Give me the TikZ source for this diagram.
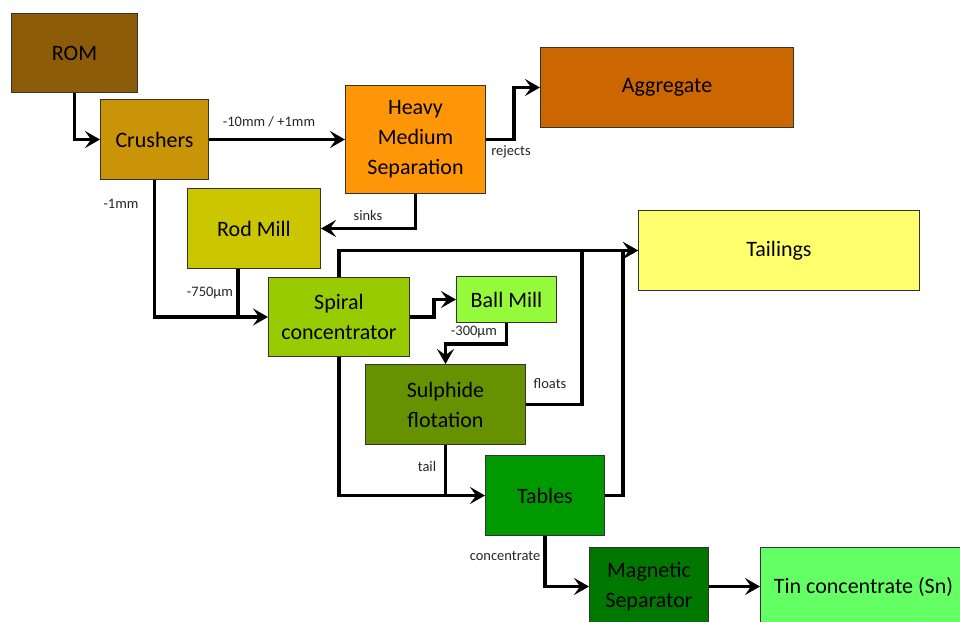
\documentclass[tikz,border=0pt]{standalone}
\usepackage{fontspec}
\setmainfont{Carlito}
\usetikzlibrary{arrows.meta}
\definecolor{cRom}{RGB}{140,92,8}
\definecolor{cCrush}{RGB}{202,148,8}
\definecolor{cHms}{RGB}{255,150,8}
\definecolor{cAgg}{RGB}{204,102,0}
\definecolor{cRod}{RGB}{204,198,0}
\definecolor{cTail}{RGB}{255,255,110}
\definecolor{cSpiral}{RGB}{153,204,0}
\definecolor{cBall}{RGB}{150,250,60}
\definecolor{cSulph}{RGB}{102,145,0}
\definecolor{cTables}{RGB}{0,153,0}
\definecolor{cMag}{RGB}{0,120,0}
\definecolor{cTin}{RGB}{100,255,100}
\begin{document}
\begin{tikzpicture}[x=1pt,y=-1pt,
  box/.style={draw=black!80, line width=1pt, anchor=north west, inner sep=0pt,
    align=center, font=\fontsize{22}{30}\selectfont, text=black},
  flow/.style={line width=3.5pt, -{Stealth[length=15pt,width=17pt,inset=6pt]}},
  plainline/.style={line width=3.5pt},
  lbl/.style={font=\fontsize{14.5}{16}\selectfont, text=black!85, inner sep=1pt}]
\useasboundingbox (0,0) rectangle (960,621);
\clip (0,0) rectangle (960,621);
\fill[white] (0,0) rectangle (960,621);

% boxes
\node[box, fill=cRom, minimum width=126pt, minimum height=79pt] (rom) at (11,13) {ROM};
\node[box, fill=cCrush, minimum width=108pt, minimum height=80pt] (crush) at (100,99) {Crushers};
\node[box, fill=cHms, minimum width=140pt, minimum height=108pt] (hms) at (345,85) {Heavy\\Medium\\Separation};
\node[box, fill=cAgg, minimum width=253pt, minimum height=80pt] (agg) at (540,47) {Aggregate};
\node[box, fill=cRod, minimum width=133pt, minimum height=80pt] (rod) at (187,188) {Rod Mill};
\node[box, fill=cTail, minimum width=281pt, minimum height=80pt] (tail) at (638,210) {Tailings};
\node[box, fill=cSpiral, minimum width=141pt, minimum height=79pt] (spiral) at (268,277) {Spiral\\concentrator};
\node[box, fill=cBall, minimum width=100pt, minimum height=46pt] (ball) at (456,276) {Ball Mill};
\node[box, fill=cSulph, minimum width=160pt, minimum height=80pt] (sulph) at (365,364) {Sulphide\\flotation};
\node[box, fill=cTables, minimum width=119pt, minimum height=80pt] (tables) at (485,455) {Tables};
\node[box, fill=cMag, minimum width=119pt, minimum height=78pt] (mag) at (589,547) {Magnetic\\Separator};
\node[box, fill=cTin, minimum width=206pt, minimum height=78pt] (tin) at (760,547) {Tin concentrate (Sn)};

% connectors
\draw[flow] (rom.south) |- (crush.west);
\draw[flow] (crush.east) -- (hms.west);
\draw[flow] (hms.east) -- ++(28,0) |- (agg.west);
\draw[flow] (hms.south) |- (rod.east);
\draw[flow] (crush.south) |- (spiral.west);
\draw[plainline] ([xshift=-16pt]rod.south) -- ([xshift=-16pt]rod.south |- spiral.west);
\draw[flow] (spiral.north) |- (tail.west);
\draw[flow] (spiral.east) -- ++(24,0) |- (ball.west);
\draw[flow] (ball.south) -- ++(0,21) -| (sulph.north);
\coordinate (fj) at (582,250);
\draw[plainline] (sulph.east) -| (fj);
\draw[flow] (spiral.south) |- (tables.west);
\draw[plainline] (sulph.south) -- (sulph.south |- tables.west);
\draw[flow] (tables.east) -- ++(18,0) |- (tail.west);
\draw[flow] (tables.south) |- (mag.west);
\draw[flow] (mag.east) -- (tin.west);

% labels
\node[lbl] (l1) at (269,122) {-10mm / +1mm};
\node[lbl] (l2) at (511,152) {rejects};
\node[lbl] (l3) at (368,216) {sinks};
\node[lbl] (l4) at (121,204) {-1mm};
\node[lbl] (l5) at (210,293) {-750µm};
\node[lbl] (l6) at (474,332) {-300µm};
\node[lbl] (l7) at (550,384) {floats};
\node[lbl] (l8) at (427,467) {tail};
\node[lbl] (l9) at (505,556) {concentrate};
\end{tikzpicture}
\end{document}
